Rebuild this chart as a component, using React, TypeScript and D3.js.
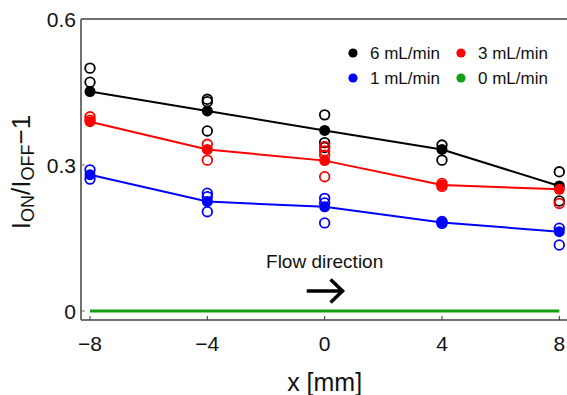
import * as d3 from "d3";

// positions along the channel [mm]
const xPositions = [-8, -4, 0, 4, 8];

// mean response per flow rate (filled markers, joined by lines)
const mean6 = [0.451, 0.411, 0.371, 0.332, 0.257];
const mean3 = [0.389, 0.332, 0.309, 0.259, 0.25];
const mean1 = [0.28, 0.225, 0.214, 0.182, 0.163];
const mean0 = [0, 0, 0, 0, 0];

// individual measurements (open markers), one list per x position
const raw6 = [[0.499, 0.47], [0.435, 0.43, 0.37], [0.403, 0.346, 0.336], [0.341, 0.31], [0.286, 0.226]];
const raw3 = [[0.399, 0.392], [0.3425, 0.31], [0.338, 0.329, 0.32, 0.276], [0.262, 0.256], [0.221]];
const raw1 = [[0.29, 0.271], [0.242, 0.235, 0.204], [0.2315, 0.222, 0.181], [0.184, 0.18], [0.17, 0.1356]];

const xTicks = [-8, -4, 0, 4, 8];
const yTicks = [0, 0.3, 0.6];

const series = [
  { label: "6 mL/min", color: "#000000", mean: mean6, raw: raw6 },
  { label: "3 mL/min", color: "#ff0000", mean: mean3, raw: raw3 },
  { label: "1 mL/min", color: "#0000ff", mean: mean1, raw: raw1 },
];

const FONT = "'Liberation Sans', Arial, sans-serif";
const GREEN = "#12a012";

export default function App() {
  const width = 567;
  const height = 395;
  const frameLeft = 81;
  const frameTop = 19;
  const frameBottom = 320;

  const x = d3.scaleLinear().domain([-8, 8]).range([90, 559.3]);
  const y = d3.scaleLinear().domain([0, 0.6]).range([311, 19]);

  const line = d3.line<number>()
    .x((_, i) => x(xPositions[i]))
    .y(d => y(d));

  const fmtY = (v: number) => (v === 0 ? "0" : v.toFixed(1));
  const fmtX = (v: number) => (v < 0 ? `\u2212${Math.abs(v)}` : `${v}`);

  const legend = [
    { label: "6 mL/min", color: "#000000", col: 0, row: 0 },
    { label: "3 mL/min", color: "#ff0000", col: 1, row: 0 },
    { label: "1 mL/min", color: "#0000ff", col: 0, row: 1 },
    { label: "0 mL/min", color: GREEN, col: 1, row: 1 },
  ];

  const arrowY = y(0.041);
  const arrowX0 = x(-0.61);
  const arrowX1 = x(0.61);

  return (
    <svg
      width={width}
      height={height}
      style={{ position: "absolute", left: 0, top: 0, background: "#fff" }}
      fontFamily={FONT}
    >
      {/* frame */}
      <line x1={frameLeft} x2={frameLeft} y1={frameTop} y2={frameBottom} stroke="#707070" strokeWidth={2} />
      <line x1={frameLeft} x2={width} y1={frameTop} y2={frameTop} stroke="#707070" strokeWidth={2} />
      <line x1={frameLeft} x2={width} y1={frameBottom} y2={frameBottom} stroke="#707070" strokeWidth={2} />

      {/* y ticks */}
      {yTicks.map(t => (
        <g key={`y${t}`}>
          <line x1={frameLeft} x2={frameLeft + 4} y1={y(t)} y2={y(t)} stroke="#707070" strokeWidth={1} />
          <text x={76} y={y(t) + 7.5} textAnchor="end" fontSize={21} fill="#111">{fmtY(t)}</text>
        </g>
      ))}

      {/* x ticks */}
      {xTicks.map(t => (
        <g key={`x${t}`}>
          <line x1={x(t)} x2={x(t)} y1={frameBottom} y2={frameBottom - 4} stroke="#333" strokeWidth={1} />
          <text x={x(t)} y={351} textAnchor="middle" fontSize={21} fill="#111">{fmtX(t)}</text>
        </g>
      ))}

      {/* axis titles */}
      <text x={x(0)} y={391} textAnchor="middle" fontSize={25} fill="#111">x [mm]</text>
      <text transform="translate(30,172) rotate(-90)" textAnchor="middle" fontSize={26} fill="#111">
        <tspan>I</tspan>
        <tspan fontSize={18} dy={4}>ON</tspan>
        <tspan dy={-4}>/I</tspan>
        <tspan fontSize={18} dy={4}>OFF</tspan>
        <tspan dy={-4}>{"\u22121"}</tspan>
      </text>

      {/* 0 mL/min */}
      <path d={line(mean0) ?? ""} fill="none" stroke={GREEN} strokeWidth={3} />

      {/* mean lines */}
      {series.map(s => (
        <path key={`l${s.label}`} d={line(s.mean) ?? ""} fill="none" stroke={s.color} strokeWidth={2} />
      ))}

      {/* mean markers */}
      {series.map(s =>
        s.mean.map((v, i) => (
          <circle key={`m${s.label}${i}`} cx={x(xPositions[i])} cy={y(v)} r={5.5} fill={s.color} />
        ))
      )}

      {/* individual measurements */}
      {series.map(s =>
        s.raw.map((vals, i) =>
          vals.map((v, j) => (
            <circle
              key={`r${s.label}${i}${j}`}
              cx={x(xPositions[i])}
              cy={y(v)}
              r={4.8}
              fill="none"
              stroke={s.color}
              strokeWidth={1.8}
            />
          ))
        )
      )}

      {/* legend */}
      {legend.map(l => (
        <g key={l.label} transform={`translate(${353 + l.col * 108},${53 + l.row * 25})`}>
          <circle cx={0} cy={0} r={4.6} fill={l.color} />
          <text x={17} y={6} fontSize={17} fill="#111">{l.label}</text>
        </g>
      ))}

      {/* flow annotation */}
      <text x={x(0)} y={y(0.088)} textAnchor="middle" fontSize={19} fill="#111">Flow direction</text>
      <line x1={arrowX0} x2={arrowX1 - 1} y1={arrowY} y2={arrowY} stroke="#000" strokeWidth={3.5} />
      <path
        d={`M${arrowX1 - 12},${arrowY - 11.5} L${arrowX1},${arrowY} L${arrowX1 - 12},${arrowY + 11.5}`}
        fill="none"
        stroke="#000"
        strokeWidth={3.5}
      />
    </svg>
  );
}
